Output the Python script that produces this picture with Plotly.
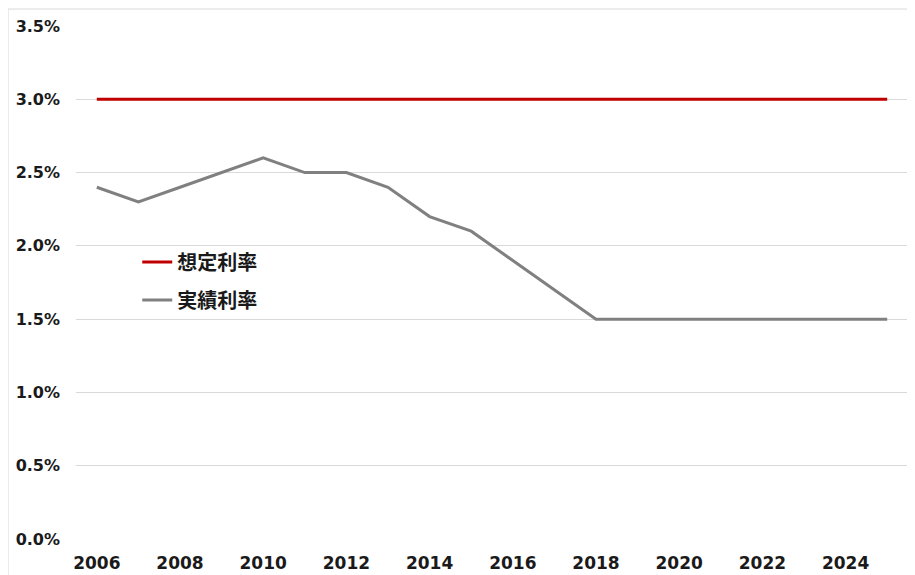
import plotly.graph_objects as go

years = list(range(2006, 2026))
assumed_rate = [3.0] * 20
actual_rate = [2.4, 2.3, 2.4, 2.5, 2.6, 2.5, 2.5, 2.4, 2.2, 2.1,
               1.9, 1.7, 1.5, 1.5, 1.5, 1.5, 1.5, 1.5, 1.5, 1.5]
series_names = ["想定利率", "実績利率"]

FONT = "DejaVu Sans, Noto Sans CJK JP, sans-serif"

fig = go.Figure()
fig.add_trace(go.Scatter(x=years, y=assumed_rate, mode="lines", name=series_names[0],
                         line=dict(color="#C00000", width=3), legendgroup="a"))
fig.add_trace(go.Scatter(x=years, y=actual_rate, mode="lines", name=series_names[1],
                         line=dict(color="#808080", width=3), legendgroup="b"))

fig.update_layout(
    width=915, height=575,
    margin=dict(l=68, r=15, t=18, b=44, autoexpand=False),
    paper_bgcolor="white", plot_bgcolor="white",
    font=dict(family=FONT, color="#1a1a1a"),
    showlegend=True,
    legend=dict(x=0.0736, y=0.578, xanchor="left", yanchor="top",
                bgcolor="rgba(0,0,0,0)", tracegroupgap=9,
                font=dict(size=20, family="Noto Sans CJK JP", color="#1a1a1a", weight="bold")),
    xaxis=dict(range=[2005.5, 2025.5], tickvals=list(range(2006, 2026, 2)),
               showgrid=False, zeroline=False, showline=False, automargin=False,
               tickfont=dict(size=17, weight="bold"), ticklabelstandoff=12),
    yaxis=dict(range=[0, 3.5], dtick=0.5, tickformat=".1f", ticksuffix="%",
               showgrid=True, gridcolor="#D9D9D9", gridwidth=1,
               zeroline=False, showline=False, automargin=False,
               tickfont=dict(size=16, weight="bold"), ticklabelstandoff=15),
)

fig.add_shape(type="rect", xref="paper", yref="paper",
              x0=-0.0817, x1=1.05, y0=-0.2, y1=1.0331,
              line=dict(color="#D9D9D9", width=1), fillcolor="rgba(0,0,0,0)", layer="below")

fig.write_html("out.html")
